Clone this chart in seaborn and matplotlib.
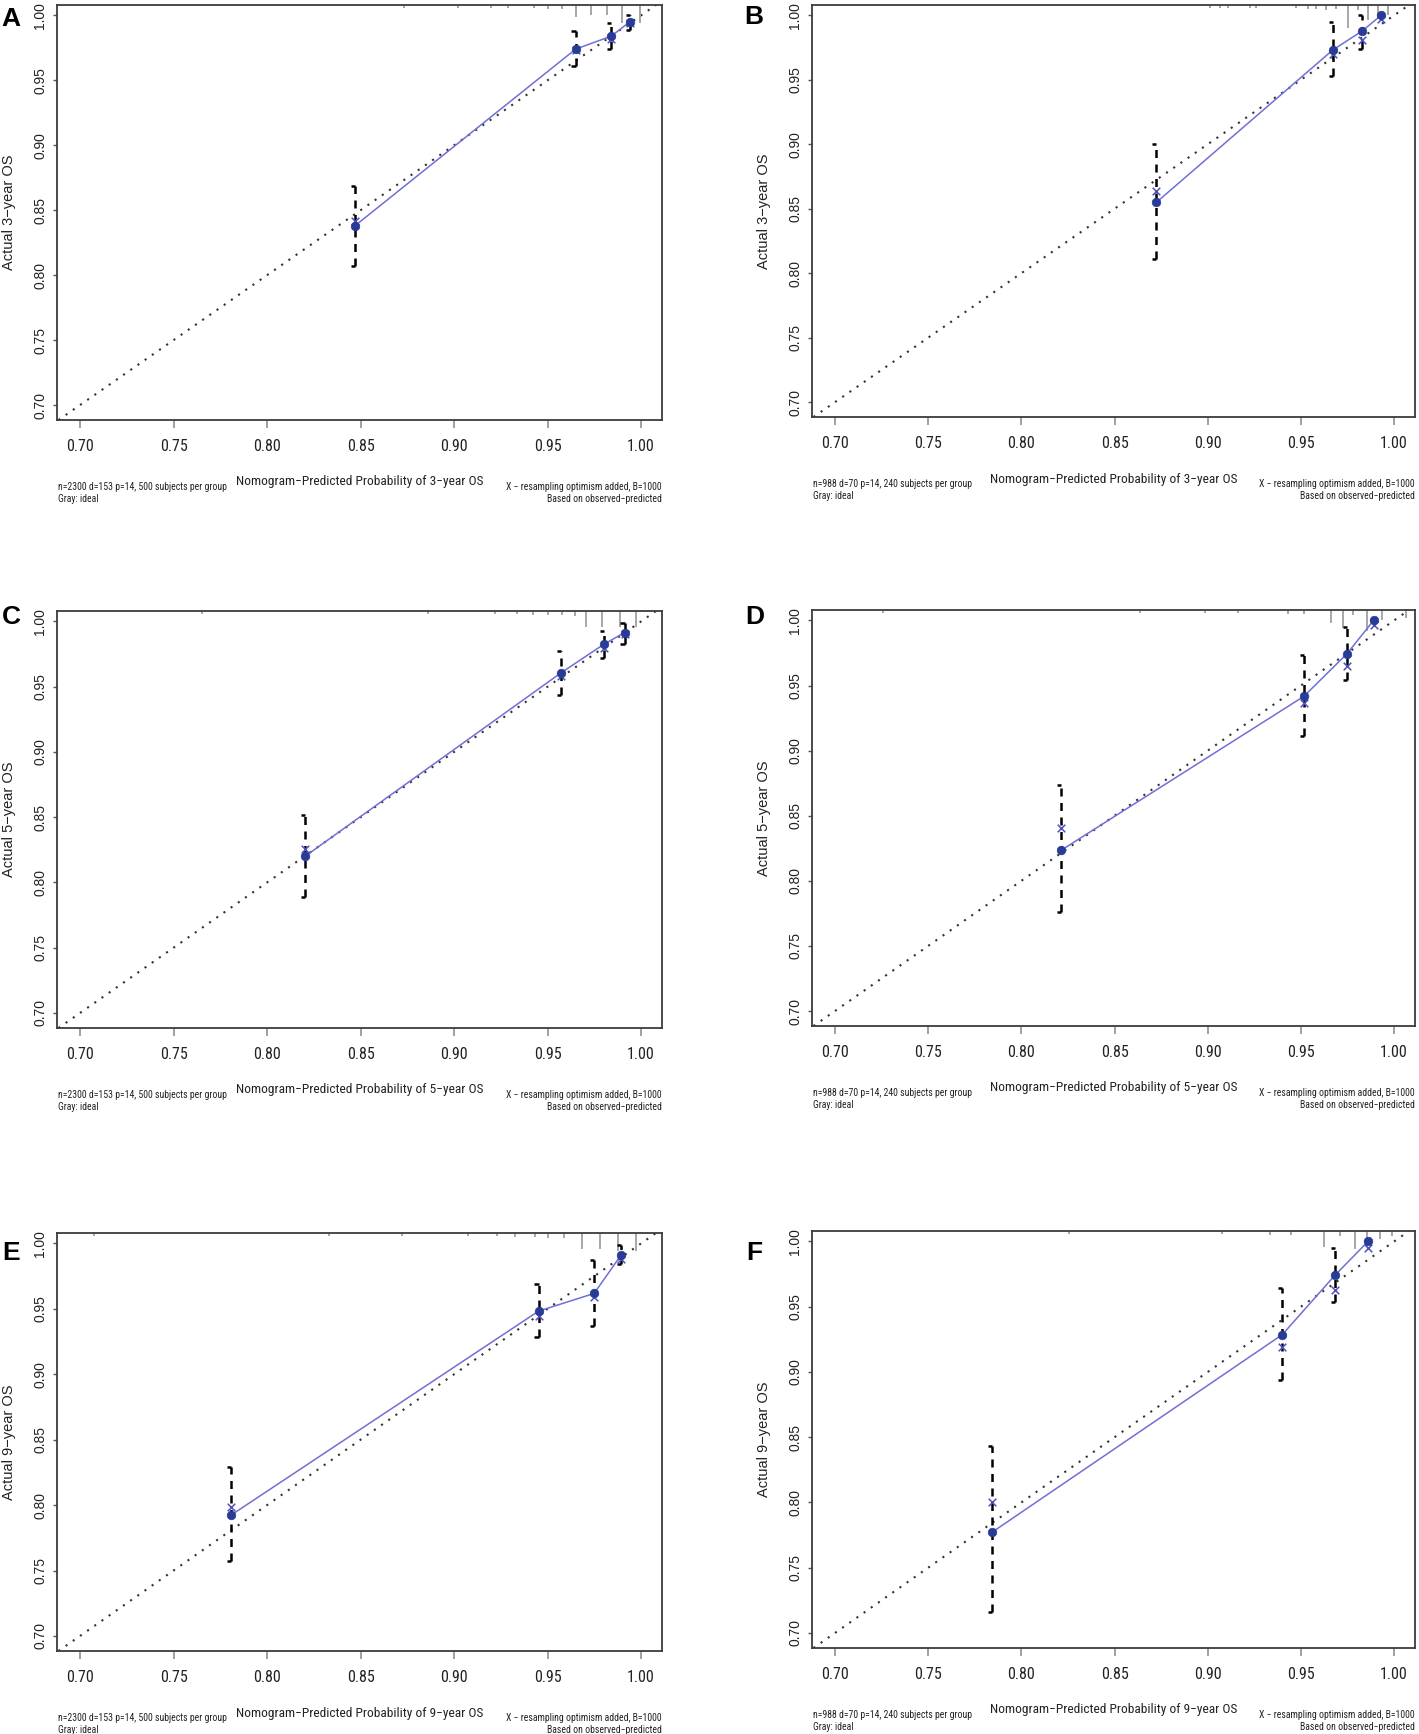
import numpy as np
import pandas as pd
import seaborn as sns
import matplotlib
matplotlib.use("Agg")
import matplotlib.pyplot as plt
import matplotlib.font_manager as fm
from matplotlib.font_manager import FontProperties

# ---------------- data ----------------
panel_letters = ["A", "B", "C", "D", "E", "F"]
panel_years = ["3", "3", "5", "5", "9", "9"]
panel_cohort = [
    "n=2300 d=153 p=14, 500 subjects per group",
    "n=988 d=70 p=14, 240 subjects per group",
    "n=2300 d=153 p=14, 500 subjects per group",
    "n=988 d=70 p=14, 240 subjects per group",
    "n=2300 d=153 p=14, 500 subjects per group",
    "n=988 d=70 p=14, 240 subjects per group",
]
tick_values = [0.70, 0.75, 0.80, 0.85, 0.90, 0.95, 1.00]
tick_labels = ["0.70", "0.75", "0.80", "0.85", "0.90", "0.95", "1.00"]

# predicted (x), observed (filled dots), bias-corrected (X marks), CI low/high
pred_A = [0.847, 0.965, 0.984, 0.994]
obs_A = [0.838, 0.974, 0.984, 0.995]
corr_A = [0.842, 0.973, 0.982, 0.994]
lo_A = [0.807, 0.961, 0.974, 0.989]
hi_A = [0.869, 0.988, 0.994, 1.000]

pred_B = [0.8725, 0.967, 0.983, 0.993]
obs_B = [0.855, 0.973, 0.988, 1.000]
corr_B = [0.864, 0.970, 0.981, 0.997]
lo_B = [0.811, 0.953, 0.974, 1.000]
hi_B = [0.900, 0.995, 1.000, 1.000]

pred_C = [0.8203, 0.957, 0.980, 0.9912]
obs_C = [0.820, 0.9604, 0.9824, 0.9915]
corr_C = [0.826, 0.958, 0.980, 0.990]
lo_C = [0.7886, 0.944, 0.972, 0.983]
hi_C = [0.852, 0.977, 0.993, 0.999]

pred_D = [0.8213, 0.9516, 0.9747, 0.989]
obs_D = [0.8234, 0.9417, 0.9744, 1.000]
corr_D = [0.8406, 0.9365, 0.9652, 0.9966]
lo_D = [0.7758, 0.9112, 0.954, 1.000]
hi_D = [0.8733, 0.9731, 0.9953, 1.000]

pred_E = [0.7806, 0.9452, 0.9749, 0.9892]
obs_E = [0.7922, 0.9483, 0.9618, 0.9909]
corr_E = [0.7982, 0.9449, 0.9592, 0.9878]
lo_E = [0.7571, 0.9286, 0.9371, 0.984]
hi_E = [0.8294, 0.9691, 0.9873, 0.999]

pred_F = [0.7841, 0.940, 0.9682, 0.986]
obs_F = [0.777, 0.9286, 0.974, 1.000]
corr_F = [0.8006, 0.9188, 0.9627, 0.9947]
lo_F = [0.7163, 0.8936, 0.9535, 1.000]
hi_F = [0.8432, 0.9645, 0.9947, 1.000]

# distribution of predictions (rug ticks hanging from the top border)
rug_x_A = [0.873, 0.902, 0.920, 0.929, 0.943, 0.950, 0.9575, 0.965, 0.9735, 0.982, 0.990, 0.9995]
rug_len_A = [0.002, 0.002, 0.002, 0.002, 0.002, 0.003, 0.003, 0.009, 0.008, 0.008, 0.014, 0.014]
rug_x_B = [0.901, 0.9064, 0.911, 0.9225, 0.926, 0.9476, 0.954, 0.958, 0.9636, 0.969, 0.9754, 0.9807, 0.986, 0.9914, 0.9968]
rug_len_B = [0.002, 0.002, 0.002, 0.002, 0.002, 0.002, 0.003, 0.003, 0.004, 0.003, 0.018, 0.004, 0.012, 0.010, 0.008]
rug_x_C = [0.765, 0.886, 0.9218, 0.9337, 0.942, 0.9505, 0.9577, 0.9648, 0.9708, 0.9792, 0.9888, 0.9971]
rug_len_C = [0.002, 0.002, 0.002, 0.002, 0.003, 0.003, 0.003, 0.004, 0.012, 0.012, 0.012, 0.012]
rug_x_D = [0.726, 0.8636, 0.8988, 0.916, 0.9428, 0.9516, 0.9659, 0.9725, 0.978, 0.9857, 0.9934, 1.0066]
rug_len_D = [0.002, 0.002, 0.002, 0.002, 0.003, 0.003, 0.010, 0.014, 0.004, 0.016, 0.008, 0.006]
rug_x_E = [0.7077, 0.8333, 0.872, 0.9074, 0.923, 0.9325, 0.9433, 0.9505, 0.9589, 0.9684, 0.978, 0.9876, 0.9971]
rug_len_E = [0.002, 0.002, 0.002, 0.002, 0.002, 0.003, 0.003, 0.004, 0.004, 0.012, 0.012, 0.014, 0.014]
rug_x_F = [0.8258, 0.9079, 0.9334, 0.9445, 0.9623, 0.9711, 0.9789, 0.9856, 0.9922, 0.9989]
rug_len_F = [0.002, 0.002, 0.003, 0.003, 0.012, 0.004, 0.014, 0.012, 0.006, 0.004]

panel_data = {
    "A": (pred_A, obs_A, corr_A, lo_A, hi_A, rug_x_A, rug_len_A),
    "B": (pred_B, obs_B, corr_B, lo_B, hi_B, rug_x_B, rug_len_B),
    "C": (pred_C, obs_C, corr_C, lo_C, hi_C, rug_x_C, rug_len_C),
    "D": (pred_D, obs_D, corr_D, lo_D, hi_D, rug_x_D, rug_len_D),
    "E": (pred_E, obs_E, corr_E, lo_E, hi_E, rug_x_E, rug_len_E),
    "F": (pred_F, obs_F, corr_F, lo_F, hi_F, rug_x_F, rug_len_F),
}

# ---------------- style ----------------
sns.set_theme(style="white")
names = {f.name for f in fm.fontManager.ttflist}
REG = "Liberation Sans" if "Liberation Sans" in names else "DejaVu Sans"
plt.rcParams["font.family"] = [REG, "DejaVu Sans"]


def _is_condensed(f):
    st = f.stretch
    if isinstance(st, (int, float)):
        cond = st < 500
    else:
        cond = str(st) in ("condensed", "semi-condensed", "extra-condensed",
                           "ultra-condensed")
    nm = f.name + " " + f.fname
    cond = cond or ("Narrow" in nm) or ("Condensed" in nm)
    w = f.weight
    normal_w = (w in ("normal", "regular", "book", 400)) if not isinstance(w, int) else w == 400
    return cond and f.style == "normal" and normal_w and "Mono" not in nm and "Serif" not in nm


_cands = [f for f in fm.fontManager.ttflist if _is_condensed(f)]
_pref = ["Liberation", "Arial", "Noto Sans", "Open Sans", "Roboto", "DejaVu"]
_cands.sort(key=lambda f: next((i for i, p in enumerate(_pref) if p in f.name), 99))
NARROW_FILE = _cands[0].fname if _cands else None


def narrow(size):
    if NARROW_FILE:
        return FontProperties(fname=NARROW_FILE, size=size)
    return FontProperties(family=REG, size=size * 0.82)


W, H = 1419, 1734
fig = plt.figure(figsize=(W / 100, H / 100), dpi=100)
fig.patch.set_facecolor("white")

# axes boxes in pixels: left, top, right, bottom
boxes = {
    "A": (57, 5, 662, 420),
    "B": (812, 5, 1415, 417),
    "C": (57, 611, 662, 1028),
    "D": (812, 610, 1415, 1026),
    "E": (57, 1233, 662, 1651),
    "F": (812, 1231, 1415, 1648),
}
letter_pos = {
    "A": (11, 19), "B": (754, 17),
    "C": (11, 617), "D": (755, 617),
    "E": (11, 1253), "F": (754, 1253),
}

XLIM = (0.6877, 1.0112)
YLIM = (0.6885, 1.008)
line_col = "#6f6fd6"
dot_col = "#283c96"
x_col = "#5050c0"

for letter, year, cohort in zip(panel_letters, panel_years, panel_cohort):
    pred, obs, corr, lo, hi, rug_x, rug_len = panel_data[letter]
    l, t, r, b = boxes[letter]
    ax = fig.add_axes([l / W, 1 - b / H, (r - l) / W, (b - t) / H])
    ax.set_facecolor("white")
    ax.set_xlim(*XLIM)
    ax.set_ylim(*YLIM)

    # ideal diagonal
    ax.axline((0.7, 0.7), slope=1, color="#333333", lw=1.5,
              linestyle=(0, (1, 3.2)), zorder=1)

    # rug of predictions at top
    ax.vlines(rug_x, [YLIM[1] - v for v in rug_len], YLIM[1],
              colors="#a0a0a0", lw=1.3, zorder=1)

    # error bars
    p = np.array(pred)
    ax.vlines(p, lo, hi, colors="black", lw=1.8, linestyles=(0, (3.2, 2.6)), zorder=2)
    ax.hlines(hi, p - 0.0022, p, colors="black", lw=1.8, zorder=2)
    ax.hlines(lo, p - 0.0022, p, colors="black", lw=1.8, zorder=2)

    df = pd.DataFrame({"pred": pred, "obs": obs, "corr": corr})
    sns.lineplot(data=df, x="pred", y="obs", ax=ax, color=line_col, lw=1.1,
                 sort=True, estimator=None, zorder=3)
    sns.scatterplot(data=df, x="pred", y="corr", ax=ax, marker="x", s=30,
                    color=x_col, linewidth=1.1, zorder=4)
    sns.scatterplot(data=df, x="pred", y="obs", ax=ax, marker="o", s=38,
                    color=dot_col, edgecolor=dot_col, linewidth=0.5, zorder=5)

    # axes styling
    for sp in ax.spines.values():
        sp.set_color("#3c3c3c")
        sp.set_linewidth(1.3)
        sp.set_visible(True)
    ax.set_xticks(tick_values)
    ax.set_xticklabels(tick_labels, fontproperties=narrow(11.5), color="#222222")
    ax.set_yticks(tick_values)
    ax.set_yticklabels(tick_labels, fontfamily=REG, fontsize=10, color="#222222",
                       rotation=90, va="center")
    ax.tick_params(axis="x", which="major", bottom=True, length=6, width=1.3,
                   color="#9a9a9a", pad=8)
    ax.tick_params(axis="y", which="major", left=True, length=3, width=1.0,
                   color="#555555", pad=4)

    ax.set_xlabel(f"Nomogram\u2212Predicted Probability of {year}\u2212year OS",
                  fontproperties=narrow(9.6), color="#222222")
    ax.xaxis.label.set_va("center")
    hpx = b - t
    ax.xaxis.set_label_coords(0.5, -62 / hpx)
    ax.set_ylabel(f"Actual {year}\u2212year OS", fontfamily=REG, fontsize=10.5,
                  color="#222222")
    ax.yaxis.label.set_va("center")
    ax.yaxis.set_label_coords(-48 / (r - l), 0.5)

    # footnotes
    for txt, xa, ha, dy in [(cohort, 0, "left", -67), ("Gray: ideal", 0, "left", -79),
                            ("X \u2212 resampling optimism added, B=1000", 1, "right", -67),
                            ("Based on observed\u2212predicted", 1, "right", -79)]:
        ax.annotate(txt, xy=(xa, 0), xycoords="axes fraction",
                    xytext=(1 if xa == 0 else 0, dy * 0.72), textcoords="offset points",
                    ha=ha, va="center", fontproperties=narrow(7.0), color="#222222")

    lx, ly = letter_pos[letter]
    fig.text(lx / W, 1 - ly / H, letter, fontsize=19, fontweight="bold",
             fontfamily=REG, ha="center", va="center", color="black")

fig.savefig("out.png", dpi=100, facecolor="white")
